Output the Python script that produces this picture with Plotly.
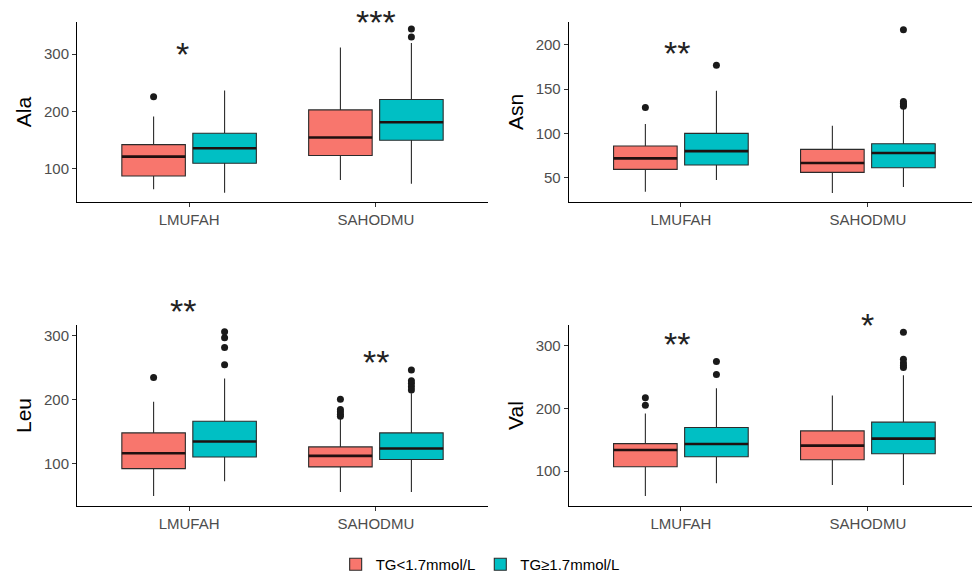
import plotly.graph_objects as go

groups = ["LMUFAH", "SAHODMU"]
series = ["TG<1.7mmol/L", "TG≥1.7mmol/L"]
colors = ["#F8766D", "#00BFC4"]

# Ala
ala_low_lf = [64.5, 80.8]; ala_low_q1 = [87.8, 123.3]; ala_low_med = [121.5, 154.7]
ala_low_q3 = [142.4, 202.9]; ala_low_uf = [191.3, 311.6]; ala_low_out = [[225.6], []]
ala_high_lf = [58.7, 74.4]; ala_high_q1 = [109.9, 150.0]; ala_high_med = [136.0, 181.4]
ala_high_q3 = [162.2, 220.9]; ala_high_uf = [236.6, 319.2]; ala_high_out = [[], [330.0, 344.0]]
ala_sig = [("*", 0.965, 307), ("***", 2.0, 362.8)]

# Asn
asn_low_lf = [34.2, 32.7]; asn_low_q1 = [59.4, 56.0]; asn_low_med = [71.8, 66.5]
asn_low_q3 = [85.7, 82.0]; asn_low_uf = [110.5, 108.6]; asn_low_out = [[129.3], []]
asn_high_lf = [47.4, 39.5]; asn_high_q1 = [64.3, 61.3]; asn_high_med = [80.0, 77.8]
asn_high_q3 = [100.0, 88.3]; asn_high_uf = [148.1, 128.6]
asn_high_out = [[176.7], [130.5, 132.0, 134.0, 136.0, 216.9]]
asn_sig = [("**", 0.98, 195.5)]

# Leu
leu_low_lf = [49.3, 55.6]; leu_low_q1 = [92.2, 94.8]; leu_low_med = [116.2, 112.0]
leu_low_q3 = [148.0, 126.1]; leu_low_uf = [196.6, 170.5]
leu_low_out = [[234.7], [174.0, 177.0, 181.0, 184.6, 200.8]]
leu_high_lf = [72.3, 55.6]; leu_high_q1 = [110.4, 106.3]; leu_high_med = [134.5, 123.5]
leu_high_q3 = [166.3, 148.0]; leu_high_uf = [233.2, 210.0]
leu_high_out = [[254.6, 281.7, 296.9, 306.3], [215.0, 220.0, 225.3, 229.5, 246.2]]
leu_sig = [("**", 0.965, 345), ("**", 2.0, 264.5)]

# Val
val_low_lf = [60.5, 78.1]; val_low_q1 = [106.9, 118.1]; val_low_med = [133.6, 140.5]
val_low_q3 = [143.7, 164.0]; val_low_uf = [191.7, 220.5]; val_low_out = [[205.0, 216.8], []]
val_high_lf = [80.8, 78.1]; val_high_q1 = [122.9, 127.7]; val_high_med = [143.2, 151.7]
val_high_q3 = [169.3, 177.9]; val_high_uf = [231.7, 252.5]
val_high_out = [[253.6, 274.4], [265.0, 268.0, 272.0, 278.0, 320.8]]
val_sig = [("**", 0.98, 309), ("*", 2.0, 339.5)]

panels = [
    dict(name="Ala", stats=[(ala_low_lf, ala_low_q1, ala_low_med, ala_low_q3, ala_low_uf, ala_low_out),
                            (ala_high_lf, ala_high_q1, ala_high_med, ala_high_q3, ala_high_uf, ala_high_out)],
         sig=ala_sig, yrange=[42.4, 356], ticks=[100, 200, 300]),
    dict(name="Asn", stats=[(asn_low_lf, asn_low_q1, asn_low_med, asn_low_q3, asn_low_uf, asn_low_out),
                            (asn_high_lf, asn_high_q1, asn_high_med, asn_high_q3, asn_high_uf, asn_high_out)],
         sig=asn_sig, yrange=[22.6, 225.6], ticks=[50, 100, 150, 200]),
    dict(name="Leu", stats=[(leu_low_lf, leu_low_q1, leu_low_med, leu_low_q3, leu_low_uf, leu_low_out),
                            (leu_high_lf, leu_high_q1, leu_high_med, leu_high_q3, leu_high_uf, leu_high_out)],
         sig=leu_sig, yrange=[33.7, 316.7], ticks=[100, 200, 300]),
    dict(name="Val", stats=[(val_low_lf, val_low_q1, val_low_med, val_low_q3, val_low_uf, val_low_out),
                            (val_high_lf, val_high_q1, val_high_med, val_high_q3, val_high_uf, val_high_out)],
         sig=val_sig, yrange=[44.5, 332.5], ticks=[100, 200, 300]),
]

W, H = 972, 581
xdoms = [[77 / W, 488 / W], [568.7 / W, 1.0]]
ydoms = [[1 - 202 / H, 1 - 22 / H], [1 - 506 / H, 1 - 325 / H]]
xranges = [[0.4, 2.6], [0.4, 0.4 + (W - 568.7) / 187.0]]

offset = 0.19
bw = 0.34
pos = [1, 2]
FONT = "Liberation Sans, Arial"

fig = go.Figure()
annotations = []
for i, p in enumerate(panels):
    col = i % 2
    row = i // 2
    ax = "" if i == 0 else str(i + 1)
    lo, hi = p["yrange"]
    for s, (lf, q1, med, q3, uf, out) in enumerate(p["stats"]):
        sx = [c + (offset if s == 1 else -offset) for c in pos]
        fig.add_trace(go.Box(
            x=sx, lowerfence=lf, q1=q1, median=med, q3=q3, upperfence=uf,
            width=bw, fillcolor=colors[s], line=dict(color="#2b2b2b", width=1.1),
            whiskerwidth=0, name=series[s], legendgroup=series[s], showlegend=(i == 0),
            xaxis="x" + ax, yaxis="y" + ax, hoverinfo="skip",
        ))
        # thicker median line, as in ggplot
        mx, my = [], []
        for g in range(len(pos)):
            mx += [sx[g] - bw / 2, sx[g] + bw / 2, None]
            my += [med[g], med[g], None]
        fig.add_trace(go.Scatter(
            x=mx, y=my, mode="lines", line=dict(color="#1f1010", width=2.6),
            showlegend=False, xaxis="x" + ax, yaxis="y" + ax, hoverinfo="skip",
        ))
        ox, oy = [], []
        for g, vals in enumerate(out):
            for v in vals:
                ox.append(sx[g]); oy.append(v)
        if ox:
            fig.add_trace(go.Scatter(
                x=ox, y=oy, mode="markers", marker=dict(color="#1a1a1a", size=7),
                showlegend=False, xaxis="x" + ax, yaxis="y" + ax, hoverinfo="skip",
                cliponaxis=False,
            ))
    for txt, gx, yv in p["sig"]:
        annotations.append(dict(
            text=txt, x=gx, y=(yv - lo) / (hi - lo), xref="x" + ax, yref="y" + ax + " domain",
            showarrow=False,
            font=dict(size=34, color="#222222", family=FONT),
            xanchor="center", yanchor="middle", yshift=-4,
        ))
    axis_common = dict(showline=True, linecolor="black", linewidth=1, ticks="outside",
                       ticklen=4, tickcolor="#333333", showgrid=False, zeroline=False,
                       automargin=False,
                       tickfont=dict(size=15, color="#4D4D4D", family=FONT))
    fig.layout["xaxis" + ax] = dict(domain=xdoms[col], range=xranges[col], anchor="y" + ax,
                                    tickvals=pos, ticktext=groups, **axis_common)
    fig.layout["yaxis" + ax] = dict(domain=ydoms[row], range=p["yrange"], anchor="x" + ax,
                                    tickvals=p["ticks"],
                                    title=dict(text=p["name"], font=dict(size=21, color="black", family=FONT),
                                               standoff=6),
                                    **axis_common)

fig.update_layout(
    width=W, height=H, margin=dict(l=0, r=0, t=0, b=0),
    plot_bgcolor="white", paper_bgcolor="white",
    font=dict(family=FONT, color="black"),
    boxmode="overlay",
    annotations=annotations,
    legend=dict(orientation="h", x=0.494, xanchor="center", y=0.0, yanchor="bottom",
                font=dict(size=15, color="black", family=FONT), itemwidth=30,
                bgcolor="rgba(0,0,0,0)"),
)

fig.write_html("out.html", post_script="document.body.style.margin='0px';",
               config={"displayModeBar": False})
